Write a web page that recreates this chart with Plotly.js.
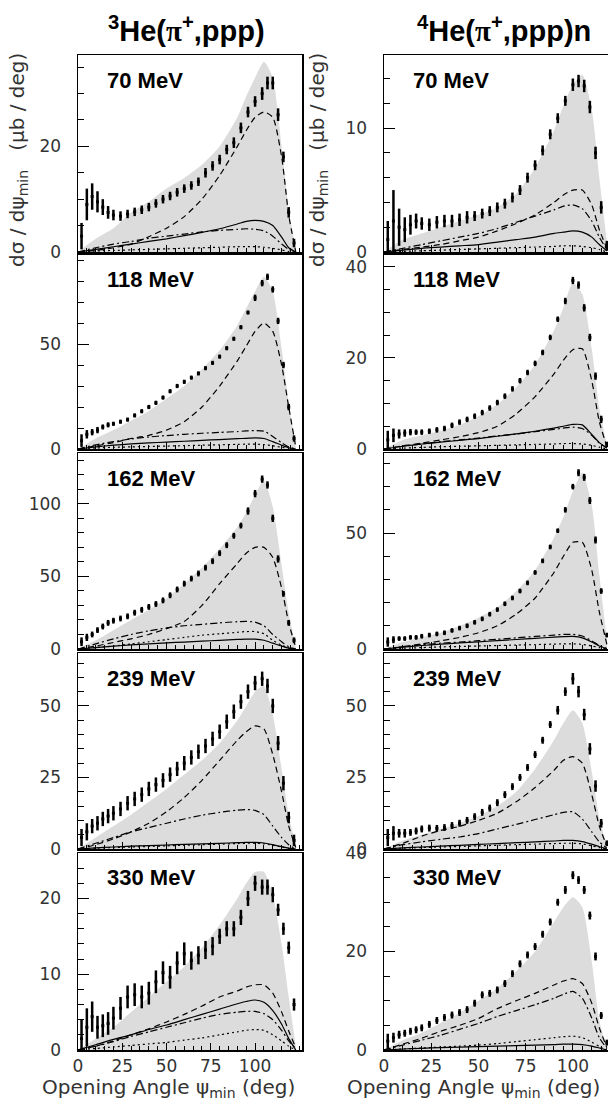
<!DOCTYPE html>
<html><head><meta charset="utf-8">
<script src="https://cdn.plot.ly/plotly-3.0.1.min.js"></script>
<style>html,body{margin:0;padding:0;background:#fff}#chart{width:608px;height:1107px}</style>
</head><body><div id="chart"></div>
<script>
// ---------- angle grids (deg) ----------
const XDL = [2,5,8,11,14,17,20,24,28,32,36,40,44,48,52,56,60,64,68,72,76,80,84,88,92,96,100,104,107,110,113,116,119,122];
const XCL = [0,10,20,30,40,50,60,70,80,90,95,100,105,110,115,119,123];
const XDR = [2,5,8,11,14,17,20,24,28,32,36,40,44,48,52,56,60,64,68,72,76,80,84,88,92,96,100,103,106,109,112,115,118];
const XCR = [0,10,20,30,40,50,60,70,80,90,95,100,105,110,114,118];

const energies = ["70 MeV","118 MeV","162 MeV","239 MeV","330 MeV"];
const xTickVals = [0,25,50,75,100];

// ---------- 3He(pi+,ppp) ----------
const He3_70_data = [3,9,10.5,9.5,8.5,7.5,7,6.8,7.2,7.6,8,8.5,9.2,10,10.6,11.3,12,12.6,13.3,15,16.3,17.5,19.4,20.7,23.5,26.5,28.5,30,32,32,26,18,7.5,1.7];
const He3_70_err  = [2.5,3,2.5,2,1.5,1.2,1,0.9,0.8,0.8,0.8,0.8,0.8,0.8,0.8,0.8,0.8,0.8,0.8,0.9,0.9,0.9,0.9,1,1,1,1,1.2,1.2,1.2,1.2,1,1,0.8];
const He3_70_shade = [0,2.5,4.5,7.5,9.5,12,14,16.5,20,25.5,29.5,33,36,33,20,8,0.5];
const He3_70_dash  = [0,0.3,0.8,1.5,2.9,4.5,6.7,10,14.5,20,23,25.5,26.5,25.5,18,7,0];
const He3_70_dashdot = [0,0.8,1.5,2,2.6,3,3.4,3.8,4.1,4.3,4.4,4.3,4,3,1.5,0.5,0];
const He3_70_solid = [0,0.5,1,1.5,2,2.5,3.1,3.7,4.4,5.3,5.8,6,5.8,5,2.8,0.8,0];
const He3_70_dot   = [0,0.2,0.3,0.4,0.5,0.6,0.7,0.8,0.9,1,1,1,0.9,0.7,0.4,0.1,0];

const He3_118_data = [4,7,8,9,10.5,11.5,12,13,14,16,18,20,22,24.5,27.5,30,32,34,36,38.5,41,44,48,52.5,58,65,72,79,82,76,61,40,20,5];
const He3_118_err  = [3,2,1.5,1.5,1.2,1.2,1,1,1,1,1,1,1,1,1,1,1,1,1,1,1,1,1,1,1,1,1.5,1.5,1.5,1.5,1.5,1.5,1.5,1.5];
const He3_118_shade = [0,5,9,13.5,18,24,30,38,47,59,67,75,82,75,48,22,1];
const He3_118_dash  = [0,1.5,3,5,6.5,9,13,20,30,42,49,56,60,56,40,20,1];
const He3_118_dashdot = [0,2,3.5,4.8,5.7,6.4,7,7.5,7.9,8.3,8.6,8.8,8.5,6,3,1,0];
const He3_118_solid = [0,1,1.8,2.4,2.9,3.3,3.7,4.1,4.5,4.9,5.1,5.3,5,3.5,1.8,0.6,0];
const He3_118_dot   = [0,0.5,0.8,1,1.2,1.4,1.6,1.8,2,2.2,2.3,2.3,2.1,1.5,0.8,0.3,0];

const He3_162_data = [5,8,10,13,15.5,18,19.5,21,22.5,25,27,29,31,33.5,37,41,45,48.5,52,56,60.5,66,71.5,78,85,95,107,117,113,90,62,38,18,6];
const He3_162_err  = [3,2.5,2,2,2,2,2,2,2,2,2,2,2,2,2,2,2,2,2,2,2,2,2,2,2,2.5,2.5,2.5,2.5,2.5,2.5,2,2,2];
const He3_162_shade = [0,6,13,20,27,35,45,56,69,84,94,106,116,98,58,25,1];
const He3_162_dash  = [0,2,4.5,7,10,14,19,30,45,59,66,70,70,63,42,18,1];
const He3_162_dashdot = [0,3.5,7,10,12.5,14.5,16,17,18,18.8,19,18.5,16,10,5,1.5,0];
const He3_162_solid = [0,1,2,2.8,3.5,4.2,4.8,5.4,6,6.6,6.8,6.8,6,4,2,0.6,0];
const He3_162_dot   = [0,1,2,3.5,5,6.5,8,9.5,10.5,11.5,12,12,10.5,6,2.5,0.8,0];

const He3_239_data = [4,6,8,9,10.5,11.5,12.5,14,16,17.5,19,21,22.5,24,26,28,30,32,34,36,38.5,41,44.5,48,51.5,55,58,59.5,57,50,37,23,11,3];
const He3_239_err  = [3,3,2.5,2.5,2.5,2.5,2.5,2.5,2.5,2.5,2.5,2.5,2.5,2.5,2.5,2.5,2.5,2.5,2.5,2.5,2.5,2.5,2.5,2.5,2.5,2.5,2.5,2.5,2.5,2.5,2.5,2.5,2,2];
const He3_239_shade = [0,4,8,12,16.5,21,26,31,37,45,50,55,57,47,28,12,1];
const He3_239_dash  = [0,1.5,3.5,6,9,13,18,24,31,38,41,43,42,33,20,8,0.5];
const He3_239_dashdot = [0,2,4,6,7.5,9,10.5,11.8,12.8,13.6,13.8,13.5,12,8,4,1.5,0];
const He3_239_solid = [0,0.4,0.7,1,1.2,1.4,1.6,1.8,2,2.2,2.3,2.3,2.1,1.5,0.8,0.3,0];
const He3_239_dot   = [0,0.3,0.5,0.7,0.9,1.1,1.3,1.5,1.7,1.9,2,2,1.8,1.3,0.7,0.2,0];

const He3_330_data = [1.5,3,4.4,3,3.2,3.5,4.2,5.5,7,7.3,7,7.5,9,10.2,9.6,11.5,12.7,11.8,12.5,13.2,13.7,15,16,16,17.5,20,22,21.5,21.5,20.5,18.5,16,13.5,6];
const He3_330_err  = [2.5,2.5,2,1.5,1.5,1.5,1.5,1.5,1.5,1.5,1.5,1.5,1.5,1.5,1.5,1.5,1.5,1.2,1.2,1.2,1.2,1,1,1,1,1,1,1,1,1,0.8,0.8,0.8,0.8];
const He3_330_shade = [0,1.5,3,5,7,9,11,13.5,16.5,20,22,23.5,23.5,20.5,14,7,0.5];
const He3_330_dash  = [0,0.5,1.2,2,2.8,3.7,4.7,5.8,7,7.8,8.3,8.6,8.6,7.5,5,2.5,0.3];
const He3_330_dashdot = [0,0.5,1.1,1.8,2.4,3,3.6,4.2,4.7,5,5.1,5.1,4.8,4,2.6,1.2,0.2];
const He3_330_solid = [0,0.7,1.4,2,2.7,3.3,4,4.7,5.4,6.1,6.4,6.6,6.3,5.2,3.4,1.5,0];
const He3_330_dot   = [0,0.2,0.4,0.6,0.8,1,1.3,1.6,2,2.4,2.6,2.7,2.6,2,1.2,0.5,0];

// ---------- 4He(pi+,ppp)n ----------
const He4_70_data = [1,2.5,2,1.8,2.2,2.5,2.3,2.2,2.4,2.5,2.5,2.6,2.8,2.9,3.1,3.3,3.6,3.9,4.4,5,6,7,8.2,9.5,10.8,12.2,13.5,13.8,13.4,11.7,8,3.6,0.5];
const He4_70_err  = [1.5,2.5,1.5,1,0.8,0.6,0.5,0.5,0.5,0.5,0.5,0.5,0.5,0.4,0.4,0.4,0.4,0.4,0.4,0.4,0.4,0.4,0.4,0.4,0.4,0.4,0.5,0.5,0.5,0.5,0.5,0.5,0.4];
const He4_70_shade = [0,1,1.5,2,2.5,3,3.6,4.7,6.8,9.8,11.8,13.5,14.3,11.5,6,0.8];
const He4_70_dash  = [0,0.2,0.4,0.6,0.9,1.2,1.7,2.3,3,4,4.6,5,5,3.8,1.8,0.3];
const He4_70_dashdot = [0,0.3,0.6,0.9,1.2,1.5,1.9,2.4,2.9,3.4,3.7,3.8,3.5,2.5,1.2,0.2];
const He4_70_solid = [0,0.15,0.3,0.4,0.5,0.6,0.8,1,1.2,1.5,1.6,1.7,1.6,1.2,0.6,0.1];
const He4_70_dot   = [0,0.05,0.1,0.15,0.2,0.25,0.3,0.35,0.4,0.45,0.5,0.5,0.45,0.35,0.2,0];

const He4_118_data = [2,3,3.3,3.5,3.7,3.7,3.7,3.9,4.2,4.5,5.2,5.9,6.5,7.2,8,9,10.2,11.6,13.2,15,16.8,18.8,21.2,24.5,28.5,32.5,37,36,31,24.5,16,6.5,1];
const He4_118_err  = [2,1.5,1,0.8,0.7,0.6,0.6,0.6,0.6,0.6,0.6,0.6,0.6,0.6,0.6,0.6,0.6,0.6,0.6,0.6,0.6,0.6,0.6,0.6,0.6,0.7,0.8,0.8,0.8,0.8,0.8,0.8,0.6];
const He4_118_shade = [0,2,3,4,5.3,7.2,9.8,13.5,18.5,26,31,36.5,34,22,9,1];
const He4_118_dash  = [0,0.7,1.3,2,2.7,3.6,5,7.7,11.5,16.5,19.5,21.8,22,15,6,0.5];
const He4_118_dashdot = [0,0.6,1.1,1.6,2,2.4,2.9,3.3,3.8,4.3,4.6,4.8,4.5,3,1.3,0.2];
const He4_118_solid = [0,0.6,1.1,1.5,1.9,2.3,2.8,3.3,3.9,4.6,5,5.4,5.3,3.2,1.4,0.2];
const He4_118_dot   = [0,0.2,0.35,0.5,0.6,0.7,0.8,0.9,1,1.1,1.2,1.2,1.1,0.8,0.4,0];

const He4_162_data = [3,4,4.5,4.5,5,5,5.5,6,6.5,7,8,9,10,11.5,13,15,17,19.5,22,25,28.5,33,38,44,51,60,70,76,74,64,47,25,6];
const He4_162_err  = [2,1.5,1,1,1,1,1,1,1,1,1,1,1,1,1,1,1,1,1,1,1,1,1,1,1,1.2,1.2,1.5,1.5,1.5,1.5,1.2,1];
const He4_162_shade = [0,3,5,7,10,13.5,18,25,34,48,57,68,76,62,32,4];
const He4_162_dash  = [0,1,2.2,3.5,5,7,10,15,22,33,40,46,46,34,16,2];
const He4_162_dashdot = [0,1,1.8,2.5,3,3.6,4.2,4.8,5.4,6,6.3,6.3,5.6,3.5,1.5,0.2];
const He4_162_solid = [0,0.8,1.5,2.1,2.6,3.1,3.6,4.1,4.6,5.1,5.3,5.4,4.8,3,1.3,0.2];
const He4_162_dot   = [0,0.3,0.6,0.9,1.1,1.3,1.5,1.7,1.9,2.1,2.2,2.2,2,1.3,0.6,0];

const He4_239_data = [4,5.5,5.5,5.5,5.8,6.3,7,7.3,7.2,7.5,8.2,9,10,11.3,12.8,14.3,16.2,19,21.8,25,28.5,33,38,43.5,48.5,55,59.5,55,47,35,22,9,2];
const He4_239_err  = [3,2.5,1.5,1.5,1.2,1.2,1.2,1.2,1.2,1.2,1.2,1.2,1.2,1.2,1.2,1.2,1.2,1.2,1.2,1.2,1.2,1.2,1.2,1.2,1.5,1.5,2,2,2,2,2,1.5,1];
const He4_239_shade = [0,3,5,7,9,11.5,15,20,28,38,44,48.5,44,27,11,1];
const He4_239_dash  = [0,2,4.5,6.5,7.9,10,12.5,16.5,21.5,27.5,31,32.3,30,19,8,1];
const He4_239_dashdot = [0,1.5,2.5,3.4,4.2,5.4,7,8.6,10.3,12,12.8,13,10.5,6,2.5,0.3];
const He4_239_solid = [0,0.4,0.7,1,1.3,1.6,1.9,2.2,2.5,2.8,3,3,2.6,1.7,0.8,0.1];
const He4_239_dot   = [0,0.3,0.5,0.7,0.9,1.1,1.3,1.5,1.7,1.9,2,2,1.8,1.1,0.5,0];

const He4_330_data = [1.8,2.5,3.1,3.4,3.8,4.1,4.5,5.2,6,6.6,7.1,7.6,8.2,9.5,11.2,11.5,12.2,13.5,15.5,17.5,19.3,21,23.5,26,30,32.5,35.5,34.5,32.5,27.3,19,7,1.5];
const He4_330_err  = [1.5,1,0.8,0.7,0.7,0.7,0.7,0.7,0.7,0.7,0.7,0.7,0.7,0.7,0.7,0.7,0.7,0.7,0.7,0.7,0.7,0.7,0.7,0.7,0.7,0.8,0.8,0.8,0.8,0.8,0.8,0.7,0.6];
const He4_330_shade = [0,2,3.5,5.5,7.5,10,12.5,16,20,26,29,31,29,18,6,0.5];
const He4_330_dash  = [0,1.2,2.4,3.8,5,6.4,8.4,10,11.5,13.2,14,14.5,13.5,9.5,4.5,0.5];
const He4_330_dashdot = [0,1,2,3,4.2,5.4,6.8,8,9.2,10.5,11.3,11.9,10.5,6.5,2.5,0.3];
const He4_330_solid = [0,0.2,0.35,0.5,0.6,0.7,0.8,0.9,1,1.1,1.2,1.2,1.1,0.8,0.4,0];
const He4_330_dot   = [0,0.2,0.4,0.6,0.8,1,1.3,1.7,2.1,2.5,2.7,2.8,2.5,1.6,0.7,0];

// ---------- assemble panels ----------
const panelsL = [
  {d:He3_70_data,e:He3_70_err,s:He3_70_shade,da:He3_70_dash,dd:He3_70_dashdot,so:He3_70_solid,dt:He3_70_dot},
  {d:He3_118_data,e:He3_118_err,s:He3_118_shade,da:He3_118_dash,dd:He3_118_dashdot,so:He3_118_solid,dt:He3_118_dot},
  {d:He3_162_data,e:He3_162_err,s:He3_162_shade,da:He3_162_dash,dd:He3_162_dashdot,so:He3_162_solid,dt:He3_162_dot},
  {d:He3_239_data,e:He3_239_err,s:He3_239_shade,da:He3_239_dash,dd:He3_239_dashdot,so:He3_239_solid,dt:He3_239_dot},
  {d:He3_330_data,e:He3_330_err,s:He3_330_shade,da:He3_330_dash,dd:He3_330_dashdot,so:He3_330_solid,dt:He3_330_dot}
];
const panelsR = [
  {d:He4_70_data,e:He4_70_err,s:He4_70_shade,da:He4_70_dash,dd:He4_70_dashdot,so:He4_70_solid,dt:He4_70_dot},
  {d:He4_118_data,e:He4_118_err,s:He4_118_shade,da:He4_118_dash,dd:He4_118_dashdot,so:He4_118_solid,dt:He4_118_dot},
  {d:He4_162_data,e:He4_162_err,s:He4_162_shade,da:He4_162_dash,dd:He4_162_dashdot,so:He4_162_solid,dt:He4_162_dot},
  {d:He4_239_data,e:He4_239_err,s:He4_239_shade,da:He4_239_dash,dd:He4_239_dashdot,so:He4_239_solid,dt:He4_239_dot},
  {d:He4_330_data,e:He4_330_err,s:He4_330_shade,da:He4_330_dash,dd:He4_330_dashdot,so:He4_330_solid,dt:He4_330_dot}
];

const W = 608, H = 1107;
const px = p => p / W, py = p => 1 - p / H;
const rowsPx = [[55,252],[255,449],[453,649],[653,849],[853,1050]];
const colPx = [[78,302],[384,608]];
const xRanges = [[0,126.5],[0,118.6]];
const yRangesL = [[0,37.3],[0,92.4],[0,135],[0,68.5],[0,26]];
const yRangesR = [[0,15.9],[0,42.6],[0,84.5],[0,68.5],[0,40]];
const yMajL = [20,50,50,25,10], yMinL = [5,10,10,5,2];
const yMajR = [10,20,50,25,20], yMinR = [2,5,10,5,5];

const tickFont = {family:'DejaVu Sans, sans-serif', size:17, color:'#333'};
const traces = [];
const layout = {
  width:W, height:H, autosize:false, showlegend:false,
  margin:{l:0,r:0,t:0,b:0}, paper_bgcolor:'#fff', plot_bgcolor:'#fff',
  annotations:[]
};

function addPanel(k, col, row, p, xd, xc, yr, maj, mnr){
  const xa = 'x'+(k===1?'':k), ya = 'y'+(k===1?'':k);
  const xk = 'xaxis'+(k===1?'':k), yk = 'yaxis'+(k===1?'':k);
  traces.push({x:xc, y:p.s, xaxis:xa, yaxis:ya, type:'scatter', mode:'lines', line:{width:0, shape:'spline', smoothing:0.6},
    fill:'tozeroy', fillcolor:'#dcdcdc', hoverinfo:'skip'});
  const curves = [[p.da,'6px,4px'],[p.dd,'7px,3px,2px,3px'],[p.so,'solid'],[p.dt,'2px,3px']];
  curves.forEach(([y,dash])=>traces.push({x:xc, y:y, xaxis:xa, yaxis:ya, type:'scatter', mode:'lines',
    line:{color:'#000', width:1.2, dash:dash, shape:'spline', smoothing:0.6}}));
  traces.push({x:xd, y:p.d, xaxis:xa, yaxis:ya, type:'scatter', mode:'markers',
    marker:{symbol:'square', size:3, color:'#000'},
    error_y:{type:'data', array:p.e, visible:true, thickness:2.5, width:0, color:'#000'}});
  const bottom = row===4;
  layout[xk] = {domain:[px(colPx[col][0]), px(colPx[col][1])], anchor:ya, range:xRanges[col],
    showgrid:false, zeroline:false, showline:true, mirror:true, linecolor:'#000', linewidth:1.5,
    ticks:'inside', ticklen:7, tickwidth:1, tickcolor:'#000', tickmode:'array', tickvals:xTickVals,
    showticklabels:bottom, tickfont:tickFont,
    minor:{dtick:5, ticks:'inside', ticklen:4, tickcolor:'#000', tickwidth:1}};
  layout[yk] = {domain:[py(rowsPx[row][1]), py(rowsPx[row][0])], anchor:xa, range:yr,
    showgrid:false, zeroline:false, showline:true, mirror:true, linecolor:'#000', linewidth:1.5,
    ticks:'inside', ticklen:11, tickwidth:1, tickcolor:'#000', dtick:maj, tick0:0,
    tickfont:tickFont, ticklabelstandoff:12,
    minor:{dtick:mnr, ticks:'inside', ticklen:6, tickcolor:'#000', tickwidth:1}};
  layout.annotations.push({xref:'paper', yref:'paper', x:px(colPx[col][0]+27), y:py(rowsPx[row][0]+25),
    xanchor:'left', yanchor:'middle', showarrow:false, text:'<b>'+energies[row]+'</b>',
    font:{family:'Liberation Sans, Arial, sans-serif', size:22, color:'#000'}});
}
for(let r=0;r<5;r++){
  addPanel(r+1, 0, r, panelsL[r], XDL, XCL, yRangesL[r], yMajL[r], yMinL[r]);
  addPanel(r+6, 1, r, panelsR[r], XDR, XCR, yRangesR[r], yMajR[r], yMinR[r]);
}
// titles
const titleFont = {family:'Liberation Sans, Arial, sans-serif', size:29, color:'#000'};
layout.annotations.push({xref:'paper', yref:'paper', x:px(186), y:py(29), showarrow:false, xanchor:'center', yanchor:'middle',
  text:'<b><sup>3</sup>He(<span style="font-family:Liberation Serif,serif">π</span><sup>+</sup>,ppp)</b>', font:titleFont});
layout.annotations.push({xref:'paper', yref:'paper', x:px(504), y:py(29), showarrow:false, xanchor:'center', yanchor:'middle',
  text:'<b><sup>4</sup>He(<span style="font-family:Liberation Serif,serif">π</span><sup>+</sup>,ppp)n</b>', font:titleFont});
// axis titles
const axFont = {family:'DejaVu Sans, sans-serif', size:20, color:'#333'};
[[18],[318]].forEach(([xp])=>layout.annotations.push({xref:'paper', yref:'paper', x:px(xp), y:py(160), showarrow:false,
  textangle:-90, xanchor:'center', yanchor:'middle', text:'dσ / dψ<sub>min</sub>   (μb / deg)', font:axFont}));
[[168],[473]].forEach(([xp])=>layout.annotations.push({xref:'paper', yref:'paper', x:px(xp), y:py(1088), showarrow:false,
  xanchor:'center', yanchor:'middle', text:'Opening Angle ψ<sub>min</sub> (deg)', font:axFont}));

Plotly.newPlot('chart', traces, layout, {staticPlot:true, displayModeBar:false});
</script></body></html>
